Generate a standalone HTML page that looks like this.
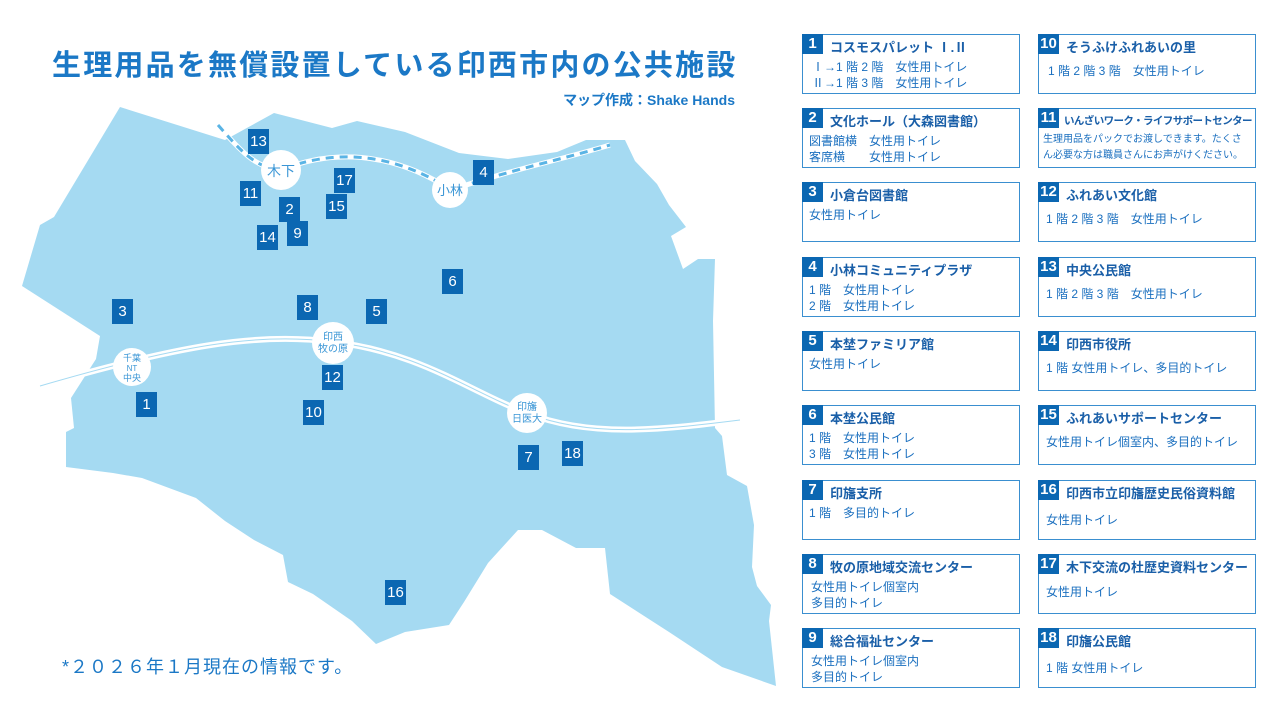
<!DOCTYPE html>
<html><head><meta charset="utf-8"><style>
body{margin:0;width:1280px;height:720px;background:#fff;position:relative;overflow:hidden;font-family:"Liberation Sans","Noto Sans CJK JP",sans-serif;color:#1a6fbf}
.t{position:absolute;left:52px;top:42px;font-size:29px;font-weight:bold;letter-spacing:2.2px;color:#1b78c6;white-space:nowrap}
.s{position:absolute;right:545px;top:90px;font-size:14px;font-weight:bold;color:#1b78c6}
.f{position:absolute;left:62px;top:653px;font-size:18px;color:#1b78c6;letter-spacing:1px}
.m{position:absolute;width:21px;height:25px;background:#0b67b2;color:#fff;font-size:15px;text-align:center;line-height:25px;font-family:"Liberation Sans Narrow","Liberation Sans",sans-serif}
.b{position:absolute;width:218px;height:60px;border:1.5px solid #3a8fd0;box-sizing:border-box}
.b .n{position:absolute;left:-1px;top:-1px;height:20px;min-width:19px;padding:0 1px;background:#0b67b2;color:#fff;font-size:15px;font-weight:bold;line-height:20px;text-align:center}
.b .h{position:absolute;left:27px;top:2px;font-size:13px;font-weight:bold;color:#1a5fa8;white-space:nowrap}
.b .d{position:absolute;left:6px;top:24px;font-size:12px;line-height:16px;color:#1a6fbf;white-space:nowrap}
</style></head><body>
<div class="t">生理用品を無償設置している印西市内の公共施設</div>
<div class="s">マップ作成：Shake Hands</div>
<svg width="1280" height="720" style="position:absolute;left:0;top:0">
<polygon fill="#a5daf2" points="120,107 225,140 274,113 332,128 357,121 405,132 459,153 508,159 557,152 586,140 625,140 635,161 657,184 669,205 686,227 671,236 683,269 698,259 715,259 713,321 715,428 722,436 727,475 747,486 754,525 752,567 757,586 771,605 769,621 776,686 722,667 669,632 610,594 605,548 576,548 542,530 518,530 488,563 464,602 449,625 405,632 376,644 352,621 313,594 288,582 283,555 254,540 225,521 196,498 142,478 113,473 66,467 66,432 74,428 71,398 96,359 100,336 22,286 40,225 54,217"/>
<path d="M40,386 C180,345 260,332 333,342 C420,352 470,392 527,413 C590,438 660,430 740,420" fill="none" stroke="#fff" stroke-width="6"/>
<path d="M40,386 C180,345 260,332 333,342 C420,352 470,392 527,413 C590,438 660,430 740,420" fill="none" stroke="#a5daf2" stroke-width="1"/>
<path d="M218,125 C240,150 255,168 281,170 C330,150 390,150 451,190 C510,170 560,160 610,145" fill="none" stroke="#fff" stroke-width="5"/>
<path d="M218,125 C240,150 255,168 281,170 C330,150 390,150 451,190 C510,170 560,160 610,145" fill="none" stroke="#5ab4e5" stroke-width="3" stroke-dasharray="8,6"/>
<g fill="#fff">
<circle cx="281" cy="170" r="20"/><circle cx="450" cy="190" r="18"/><circle cx="333" cy="343" r="21"/><circle cx="132" cy="367" r="19"/><circle cx="527" cy="413" r="20"/>
</g>
<g fill="#3a96d6" font-family="Liberation Sans,Noto Sans CJK JP,sans-serif" text-anchor="middle">
<text x="281" y="176" font-size="14">木下</text><text x="450" y="195" font-size="13">小林</text>
<text x="333" y="340" font-size="10">印西</text><text x="333" y="352" font-size="10">牧の原</text>
<text x="132" y="361" font-size="9">千葉</text><text x="132" y="371" font-size="8">NT</text><text x="132" y="381" font-size="9">中央</text>
<text x="527" y="410" font-size="10">印旛</text><text x="527" y="422" font-size="10">日医大</text>
</g>
</svg>
<div class="m" style="left:248px;top:129px">13</div>
<div class="m" style="left:240px;top:181px">11</div>
<div class="m" style="left:279px;top:197px">2</div>
<div class="m" style="left:334px;top:168px">17</div>
<div class="m" style="left:326px;top:194px">15</div>
<div class="m" style="left:257px;top:225px">14</div>
<div class="m" style="left:287px;top:221px">9</div>
<div class="m" style="left:473px;top:160px">4</div>
<div class="m" style="left:442px;top:269px">6</div>
<div class="m" style="left:112px;top:299px">3</div>
<div class="m" style="left:297px;top:295px">8</div>
<div class="m" style="left:366px;top:299px">5</div>
<div class="m" style="left:322px;top:365px">12</div>
<div class="m" style="left:136px;top:392px">1</div>
<div class="m" style="left:303px;top:400px">10</div>
<div class="m" style="left:518px;top:445px">7</div>
<div class="m" style="left:562px;top:441px">18</div>
<div class="m" style="left:385px;top:580px">16</div>
<div class="f">*２０２６年１月現在の情報です。</div>

<div class="b" style="left:802px;top:34px"><div class="n">1</div><div class="h">コスモスパレット Ⅰ.Ⅱ</div><div class="d" style="left:9px">Ⅰ→1 階 2 階　女性用トイレ<br>Ⅱ→1 階 3 階　女性用トイレ</div></div>
<div class="b" style="left:802px;top:108px"><div class="n">2</div><div class="h">文化ホール（大森図書館）</div><div class="d">図書館横　女性用トイレ<br>客席横　　女性用トイレ</div></div>
<div class="b" style="left:802px;top:182px"><div class="n">3</div><div class="h">小倉台図書館</div><div class="d">女性用トイレ</div></div>
<div class="b" style="left:802px;top:257px"><div class="n">4</div><div class="h">小林コミュニティプラザ</div><div class="d">1 階　女性用トイレ<br>2 階　女性用トイレ</div></div>
<div class="b" style="left:802px;top:331px"><div class="n">5</div><div class="h">本埜ファミリア館</div><div class="d">女性用トイレ</div></div>
<div class="b" style="left:802px;top:405px"><div class="n">6</div><div class="h">本埜公民館</div><div class="d">1 階　女性用トイレ<br>3 階　女性用トイレ</div></div>
<div class="b" style="left:802px;top:480px"><div class="n">7</div><div class="h">印旛支所</div><div class="d">1 階　多目的トイレ</div></div>
<div class="b" style="left:802px;top:554px"><div class="n">8</div><div class="h">牧の原地域交流センター</div><div class="d" style="left:8px">女性用トイレ個室内<br>多目的トイレ</div></div>
<div class="b" style="left:802px;top:628px"><div class="n">9</div><div class="h">総合福祉センター</div><div class="d" style="left:8px">女性用トイレ個室内<br>多目的トイレ</div></div>

<div class="b" style="left:1038px;top:34px"><div class="n">10</div><div class="h">そうふけふれあいの里</div><div class="d" style="left:9px;top:28px">1 階  2 階  3 階　女性用トイレ</div></div>
<div class="b" style="left:1038px;top:108px"><div class="n">11</div><div class="h" style="font-size:10.5px;top:4px;left:25px;letter-spacing:-0.6px">いんざいワーク・ライフサポートセンター</div><div class="d" style="font-size:10px;line-height:16px;top:23px;left:4px">生理用品をパックでお渡しできます。たくさ<br>ん必要な方は職員さんにお声がけください。</div></div>
<div class="b" style="left:1038px;top:182px"><div class="n">12</div><div class="h">ふれあい文化館</div><div class="d" style="left:7px;top:28px">1 階  2 階  3 階　女性用トイレ</div></div>
<div class="b" style="left:1038px;top:257px"><div class="n">13</div><div class="h">中央公民館</div><div class="d" style="left:7px;top:28px">1 階  2 階  3 階　女性用トイレ</div></div>
<div class="b" style="left:1038px;top:331px"><div class="n">14</div><div class="h">印西市役所</div><div class="d" style="left:7px;top:28px">1 階  女性用トイレ、多目的トイレ</div></div>
<div class="b" style="left:1038px;top:405px"><div class="n">15</div><div class="h">ふれあいサポートセンター</div><div class="d" style="left:7px;top:28px">女性用トイレ個室内、多目的トイレ</div></div>
<div class="b" style="left:1038px;top:480px"><div class="n">16</div><div class="h">印西市立印旛歴史民俗資料館</div><div class="d" style="left:7px;top:31px">女性用トイレ</div></div>
<div class="b" style="left:1038px;top:554px"><div class="n">17</div><div class="h">木下交流の杜歴史資料センター</div><div class="d" style="left:7px;top:29px">女性用トイレ</div></div>
<div class="b" style="left:1038px;top:628px"><div class="n">18</div><div class="h">印旛公民館</div><div class="d" style="left:7px;top:31px">1 階  女性用トイレ</div></div>
</body></html>
